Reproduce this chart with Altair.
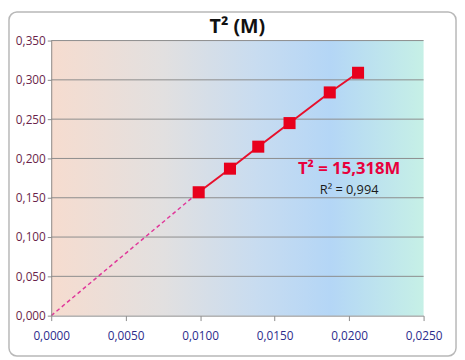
import altair as alt
import pandas as pd

# data
mass = [0.0099, 0.0120, 0.0139, 0.0160, 0.0187, 0.0206]
t2 = [0.157, 0.187, 0.215, 0.245, 0.284, 0.309]
trend_x = [0.0, 0.0099]
trend_y = [0.0, 0.157]
x_ticks = [0.0, 0.005, 0.010, 0.015, 0.020, 0.025]
y_ticks = [0.0, 0.05, 0.10, 0.15, 0.20, 0.25, 0.30, 0.35]
ann_text = ["T² = 15,318M", "R² = 0,994"]
ann_x = [0.0200, 0.0200]
ann_y = [0.186, 0.160]
title_text = ["T² (M)"]

W, H = 379, 280
FONT = "Open Sans"

pts = pd.DataFrame({"x": mass, "y": t2})
trend = pd.DataFrame({"x": trend_x, "y": trend_y})
grid_df = pd.DataFrame({"y": y_ticks[1:]})

xs = alt.Scale(domain=[0, 0.025], nice=False)
ys = alt.Scale(domain=[0, 0.35], nice=False)

xaxis = alt.Axis(values=x_ticks, tickCount=len(x_ticks) + 2,
                 labelExpr="replace(format(datum.value, '.4f'), '.', ',')",
                 title=None, grid=False, domainColor="#8a8a8a", tickColor="#8a8a8a",
                 tickSize=5, labelColor="#2b2b8c", labelFont=FONT, labelFontSize=12,
                 labelPadding=10, labelOverlap=False, labelFlush=False, zindex=1)
yaxis = alt.Axis(values=y_ticks, tickCount=len(y_ticks) + 2,
                 labelExpr="replace(format(datum.value, '.3f'), '.', ',')",
                 title=None, grid=False,
                 domainColor="#8a8a8a", tickColor="#8a8a8a", tickSize=4,
                 labelColor="#6a1f4a", labelFont=FONT, labelFontSize=12, labelPadding=2,
                 labelOverlap=False, labelFlush=False, zindex=1)

grad = alt.LinearGradient(
    gradient="linear", x1=0, x2=1, y1=0, y2=0,
    stops=[alt.GradientStop(offset=0, color="#f6dccf"),
           alt.GradientStop(offset=0.3, color="#e2e0e0"),
           alt.GradientStop(offset=0.55, color="#c8dcf0"),
           alt.GradientStop(offset=0.75, color="#b4d6f6"),
           alt.GradientStop(offset=1, color="#c6f0e6")])

one = pd.DataFrame({"a": [0]})

frame = alt.Chart(one).mark_rect(
    fill="white", fillOpacity=0, stroke="#b8b8b8", strokeWidth=1.5, cornerRadius=8, clip=False
).encode(x=alt.value(-43), x2=alt.value(W + 33), y=alt.value(-29), y2=alt.value(H + 41))

title = alt.Chart(pd.DataFrame({"t": title_text})).mark_text(
    font=FONT, fontSize=20, fontWeight="bold", color="#111111", baseline="middle"
).encode(x=alt.value(W / 2), y=alt.value(-14), text="t:N")

bg = alt.Chart(one).mark_rect(fill=grad).encode(
    x=alt.value(0), x2=alt.value(W), y=alt.value(0), y2=alt.value(H))

grid = alt.Chart(grid_df).mark_rule(color="#8c8c8c", strokeWidth=1).encode(
    y=alt.Y("y:Q", scale=ys), x=alt.value(0), x2=alt.value(W))

base_axes = alt.Chart(pts).mark_point(opacity=0).encode(
    x=alt.X("x:Q", scale=xs, axis=xaxis),
    y=alt.Y("y:Q", scale=ys, axis=yaxis),
)

dash = alt.Chart(trend).mark_line(color="#e0389a", strokeWidth=1.5, strokeDash=[4, 3]).encode(
    x=alt.X("x:Q", scale=xs), y=alt.Y("y:Q", scale=ys))

line = alt.Chart(pts).mark_line(color="#e8102c", strokeWidth=2).encode(
    x=alt.X("x:Q", scale=xs), y=alt.Y("y:Q", scale=ys))

squares = alt.Chart(pts).mark_square(color="#e8001c", opacity=1, size=150).encode(
    x=alt.X("x:Q", scale=xs), y=alt.Y("y:Q", scale=ys))

ann = pd.DataFrame({"t": ann_text, "x": ann_x, "y": ann_y})
t1 = alt.Chart(ann.iloc[[0]]).mark_text(color="#e8003c", fontWeight="bold", fontSize=17,
                                         font=FONT).encode(
    x=alt.X("x:Q", scale=xs), y=alt.Y("y:Q", scale=ys), text="t:N")
t2m = alt.Chart(ann.iloc[[1]]).mark_text(color="#1a1a1a", fontSize=13, font=FONT).encode(
    x=alt.X("x:Q", scale=xs), y=alt.Y("y:Q", scale=ys), text="t:N")

chart = alt.layer(frame, title, bg, grid, base_axes, dash, line, squares, t1, t2m).properties(
    width=W, height=H,
    autosize=alt.AutoSizeParams(type="none"),
    padding={"left": 44, "top": 30, "right": 34, "bottom": 42},
).configure_view(stroke=None)

chart.save("out.html", embed_options={"renderer": "svg", "actions": False})
